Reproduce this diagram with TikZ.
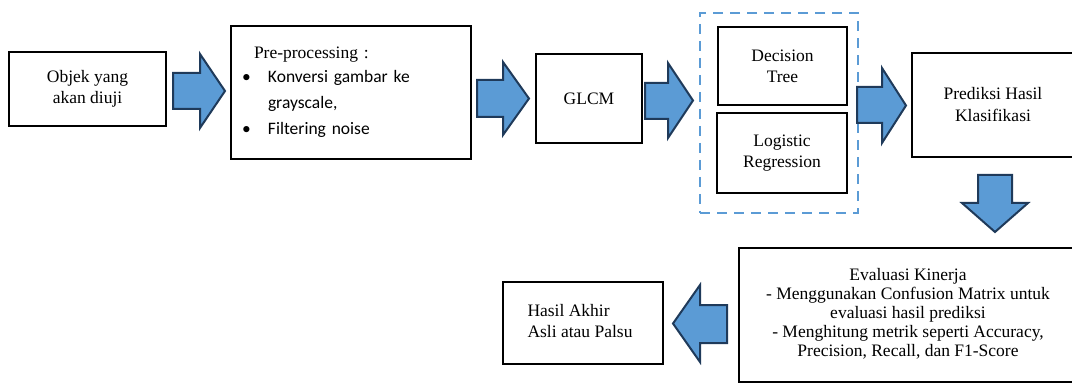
\documentclass[tikz,border=0pt]{standalone}
\usepackage{fontspec}
\setmainfont{Liberation Serif}
\setsansfont{Carlito}
\definecolor{arrfill}{HTML}{5B9BD5}
\definecolor{arredge}{HTML}{1F3A5A}
\definecolor{dashblue}{HTML}{5B9BD5}
\begin{document}
\begin{tikzpicture}[x=1pt,y=-1pt,
  box/.style={draw=black,line width=2.4pt,inner sep=0pt,align=center,
    font=\fontsize{17.5}{21}\selectfont},
  barrow/.style={fill=arrfill,draw=arredge,line width=2pt,line join=miter},
  dashbox/.style={draw=dashblue,line width=2.4pt,dash pattern=on 10pt off 7pt,inner sep=0pt}]
\useasboundingbox (0,0) rectangle (1072,385);
\clip (0,0) rectangle (1072,385);

% boxes
\node[box,minimum width=157pt,minimum height=74pt] (obj) at (87.5,89) {Objek yang\\akan diuji};
\node[box,minimum width=240pt,minimum height=133pt,text width=220pt,align=left,
  font=\fontsize{17.5}{26}\selectfont] (pre) at (351,92.5)
  {\hspace*{13pt}Pre-processing :\\[-2pt]
   {\sffamily\makebox[27pt][l]{\hspace*{1pt}•}Konversi gambar ke}\\
   {\sffamily\hspace*{27pt}grayscale,}\\
   {\sffamily\makebox[27pt][l]{\hspace*{1pt}•}Filtering noise}};
\node[box,minimum width=106pt,minimum height=89pt] (glcm) at (589,98.5) {GLCM};
\node[dashbox,minimum width=158pt,minimum height=200pt] (models) at (779,113) {};
\node[box,minimum width=129pt,minimum height=78pt] (dt) at (782.5,66) {Decision\\Tree};
\node[box,minimum width=130pt,minimum height=80pt] (lr) at (782,153) {Logistic\\Regression};
\node[box,minimum width=162pt,minimum height=104pt,font=\fontsize{17.5}{22}\selectfont] (pred) at (993,105) {Prediksi Hasil\\Klasifikasi};
\node[box,minimum width=338pt,minimum height=134pt,font=\fontsize{17.5}{19}\selectfont] (eval) at (908,315)
  {\raisebox{4.5pt}{\begin{tabular}{@{}c@{}}Evaluasi Kinerja\\- Menggunakan Confusion Matrix untuk\\evaluasi hasil prediksi\\- Menghitung metrik seperti Accuracy,\\Precision, Recall, dan F1-Score\end{tabular}}};
\node[box,minimum width=160pt,minimum height=82pt] (hasil) at (583,323)
  {\raisebox{4.5pt}{\begin{tabular}{@{}l@{\hspace{6pt}}}Hasil Akhir\\Asli atau Palsu\end{tabular}}};

% block arrows
\draw[barrow] (173,73) -- (200,73) -- (200,54) -- (225,91) -- (200,128) -- (200,109) -- (173,109) -- cycle;
\draw[barrow] (477,80) -- (503,80) -- (503,62) -- (529,98.5) -- (503,135) -- (503,117) -- (477,117) -- cycle;
\draw[barrow] (645,83) -- (668,83) -- (668,63) -- (693,100.5) -- (668,138) -- (668,119) -- (645,119) -- cycle;
\draw[barrow] (857,87) -- (882,87) -- (882,68) -- (906,105.5) -- (882,143) -- (882,123) -- (857,123) -- cycle;
\draw[barrow] (978,175) -- (1012,175) -- (1012,203) -- (1028,203) -- (995,232) -- (962,203) -- (978,203) -- cycle;
\draw[barrow] (727,305) -- (700,305) -- (700,285) -- (673,323.5) -- (700,362) -- (700,343) -- (727,343) -- cycle;
\end{tikzpicture}
\end{document}
